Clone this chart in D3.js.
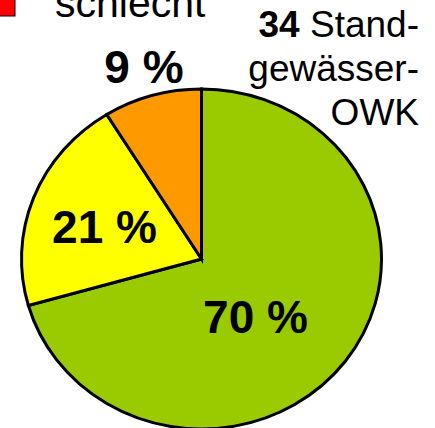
<!DOCTYPE html>
<html>
<head>
<meta charset="utf-8">
<script src="https://cdn.jsdelivr.net/npm/d3@7"></script>
<style>
  html, body { margin: 0; padding: 0; background: #fff; }
  svg { display: block; font-family: "Liberation Sans", Arial, sans-serif; }
</style>
</head>
<body>
<svg id="pie-svg" width="435" height="428"></svg>
<script>
// Zustand der Standgewässer-OWK (Anzahl)
const categories = ["gut", "mäßig", "unbefriedigend"];
const counts = [24, 7, 3];
const labels = ["70 %", "21 %", "9 %"];
const colors = ["#9ACB00", "#FFFF00", "#FF9900"];
const total = 34;

const width = 435, height = 428;
const cx = 201.5, cy = 259;
const rx = 180, ry = 170;

const svg = d3.select("#pie-svg");

// legend remnant (cut off at top)
svg.append("rect")
  .attr("x", -10).attr("y", -10)
  .attr("width", 25).attr("height", 26)
  .attr("fill", "#FF0000")
  .attr("stroke", "#000").attr("stroke-width", 1);

svg.append("text")
  .attr("x", 55).attr("y", 17)
  .style("font-size", "41px")
  .text("schlecht");

// pie
const pie = d3.pie().sort(null).startAngle(0).endAngle(2 * Math.PI);
const arc = d3.arc().innerRadius(0).outerRadius(rx);

const g = svg.append("g")
  .attr("transform", `translate(${cx},${cy}) scale(1,${ry / rx})`);

g.selectAll("path")
  .data(pie(counts))
  .join("path")
  .attr("d", arc)
  .attr("fill", (d, i) => colors[i])
  .attr("stroke", "#000")
  .attr("stroke-width", 3)
  .attr("stroke-linejoin", "miter")
  .attr("vector-effect", "non-scaling-stroke");

// percent labels
const labelPos = [[255.5, 333], [104.5, 243], [144, 83]];
svg.append("g")
  .selectAll("text")
  .data(labels)
  .join("text")
  .attr("x", (d, i) => labelPos[i][0])
  .attr("y", (d, i) => labelPos[i][1])
  .attr("text-anchor", "middle")
  .style("font-size", "46px")
  .style("font-weight", "bold")
  .text(d => d);

// title at right
const title = svg.append("text")
  .attr("text-anchor", "end")
  .style("font-size", "37px");
const t1 = title.append("tspan").attr("x", 419).attr("y", 37);
t1.append("tspan").style("font-weight", "bold").text(total);
t1.append("tspan").text(" Stand-");
title.append("tspan").attr("x", 419).attr("y", 81).text("gewässer-");
title.append("tspan").attr("x", 419).attr("y", 125).text("OWK");
</script>
</body>
</html>
